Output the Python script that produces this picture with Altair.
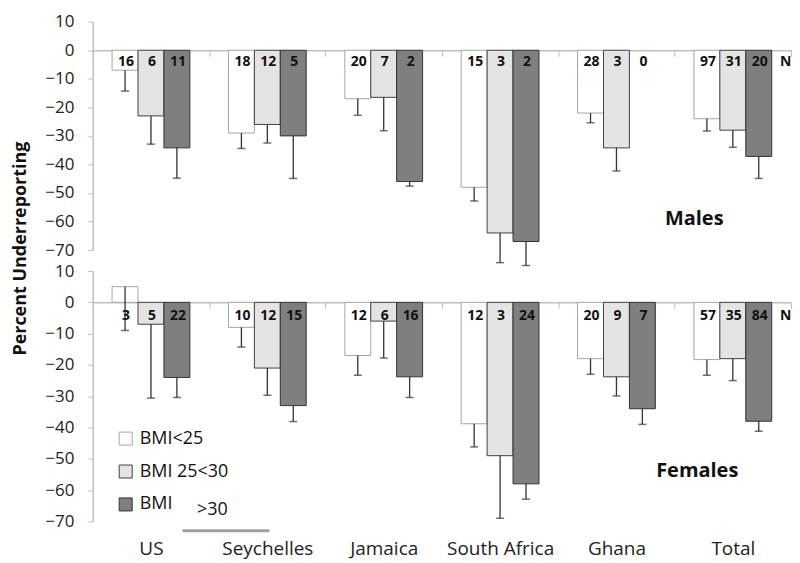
import altair as alt
import pandas as pd

countries = ["US", "Seychelles", "Jamaica", "South Africa", "Ghana", "Total"]
groups = ["BMI<25", "BMI 25<30", "BMI >30"]

# Males
male_lt25 = [-7, -29, -17, -48, -22, -24]
male_lt25_err = [-14.3, -34.4, -22.8, -52.8, -25.4, -28.3]
male_25_30 = [-23, -26, -16.5, -64, -34.2, -28]
male_25_30_err = [-32.9, -32.5, -28.2, -74.4, -42.3, -34]
male_gt30 = [-34.2, -30, -46, -67, 0, -37.2]
male_gt30_err = [-44.8, -44.9, -47.6, -75.4, None, -44.9]
male_n_lt25 = [16, 18, 20, 15, 28, 97]
male_n_25_30 = [6, 12, 7, 3, 3, 31]
male_n_gt30 = [11, 5, 2, 2, 0, 20]

# Females
female_lt25 = [5, -8, -17, -38.8, -18, -18.3]
female_lt25_err = [-9, -14.3, -23.3, -46.2, -23, -23.3]
female_25_30 = [-7, -21, -6, -49, -23.8, -18]
female_25_30_err = [-30.6, -29.7, -17.8, -69, -29.9, -25]
female_gt30 = [-24, -33, -23.8, -58, -34, -38]
female_gt30_err = [-30.4, -38.1, -30.4, -62.9, -39, -41.2]
female_n_lt25 = [3, 10, 12, 12, 20, 57]
female_n_25_30 = [5, 12, 6, 3, 9, 35]
female_n_gt30 = [22, 15, 16, 24, 7, 84]

y_ticks = [10, 0, -10, -20, -30, -40, -50, -60, -70]

fills = ["#ffffff", "#e4e4e4", "#7f7f7f"]
strokes = ["#a6a6a6", "#404040", "#333333"]

FONT = "Open Sans"
W = 700
H1 = 229
H2 = 251


def build(vals, errs, ns):
    rows = []
    for g, v, e, n in zip(groups, vals, errs, ns):
        for i, c in enumerate(countries):
            rows.append({"country": c, "group": g, "value": v[i], "err": e[i], "n": n[i]})
    return pd.DataFrame(rows)


males = build([male_lt25, male_25_30, male_gt30],
              [male_lt25_err, male_25_30_err, male_gt30_err],
              [male_n_lt25, male_n_25_30, male_n_gt30])
females = build([female_lt25, female_25_30, female_gt30],
                [female_lt25_err, female_25_30_err, female_gt30_err],
                [female_n_lt25, female_n_25_30, female_n_gt30])


def panel(df, height, show_labels, show_legend, label_dy, name, name_y, name_x):
    zero_from_bottom = height * 70 / 80
    x_axis = alt.Axis(
        orient="bottom", offset=-zero_from_bottom, title=None,
        labels=show_labels, labelPadding=232, labelFontSize=19, labelFont=FONT,
        labelColor="#222", tickBand="extent", tickSize=6, tickColor="#bfbfbf",
        domainColor="#bfbfbf", domainWidth=1.5, labelAngle=0,
    )
    x = alt.X("country:N", sort=countries, axis=x_axis,
              scale=alt.Scale(paddingInner=0, paddingOuter=0))
    xo = alt.XOffset("group:N", sort=groups,
                     scale=alt.Scale(domain=groups, paddingInner=0, paddingOuter=0.745))
    yscale = alt.Scale(domain=[-70, 10], nice=False, zero=False)
    y_axis = alt.Axis(
        values=y_ticks, grid=False, labelFontSize=17, labelFont=FONT,
        labelColor="#222", tickColor="#bfbfbf", tickSize=5, domainColor="#bfbfbf",
        domainWidth=1.5, labelPadding=14, labelOverlap=False,
        title="Percent  Underreporting" if show_legend else None,
        titleFont=FONT, titleFontSize=18, titleFontWeight="bold", titleColor="#111",
        titleY=-23 if show_legend else 0, titlePadding=15,
    )

    def Y(field):
        return alt.Y(field, scale=yscale, axis=y_axis)

    def YD(v):
        return alt.YDatum(v, scale=yscale, axis=y_axis)

    if show_legend:
        legend = alt.Legend(
            orient="none", legendX=24, legendY=159, title=None, symbolType="square",
            symbolSize=170, symbolStrokeColor="#555", symbolStrokeWidth=1,
            labelFontSize=18, labelFont=FONT, labelColor="#111", rowPadding=15,
            labelOffset=5,
            labelExpr="datum.label == 'BMI >30' ? 'BMI' : datum.label",
        )
    else:
        legend = None

    base = alt.Chart(df)
    bars = base.transform_filter("datum.value != 0").mark_bar(strokeWidth=1).encode(
        x=x, xOffset=xo, y=Y("value:Q"),
        fill=alt.Fill("group:N", sort=groups,
                      scale=alt.Scale(domain=groups, range=fills), legend=legend),
        stroke=alt.Stroke("group:N", sort=groups,
                          scale=alt.Scale(domain=groups, range=strokes), legend=None),
    )
    errs = base.transform_filter("isValid(datum.err)")
    rules = errs.mark_rule(color="#333", strokeWidth=1.3).encode(
        x=x, xOffset=xo, y=Y("value:Q"), y2="err:Q")
    caps = errs.mark_tick(color="#333", thickness=1.5, size=8, orient="horizontal").encode(
        x=x, xOffset=xo, y=Y("err:Q"))
    nums = base.mark_text(fontSize=14, fontWeight="bold", font=FONT, color="#111",
                          dy=label_dy, dx=1).encode(
        x=x, xOffset=xo, y=YD(0), text="n:Q")
    nlab = alt.Chart(pd.DataFrame({"t": ["N"]})).mark_text(
        fontSize=14, fontWeight="bold", font=FONT, color="#111", dy=label_dy, dx=27).encode(
        x=alt.datum("Total"), xOffset=alt.datum("BMI >30"), y=YD(0), text="t:N")
    title = alt.Chart(pd.DataFrame({"t": [name]})).mark_text(
        fontSize=20, fontWeight="bold", font=FONT, color="#111").encode(
        x=alt.value(name_x), y=YD(name_y), text="t:N")

    layers = [bars, rules, caps, nums, nlab, title]
    if show_legend:
        gt = alt.Chart(pd.DataFrame({"t": [">30"]})).mark_text(
            fontSize=18, font=FONT, color="#111").encode(
            x=alt.value(120), y=YD(-66.5), text="t:N")
        line = alt.Chart(pd.DataFrame({"a": [1]})).mark_rule(
            color="#a0a0a0", strokeWidth=3).encode(
            x=alt.value(90), x2=alt.value(177), y=YD(-73))
        layers += [gt, line]
    return alt.layer(*layers).properties(width=W, height=height)


top = panel(males, H1, False, False, 12, "Males", -59, 603)
bottom = panel(females, H2, True, True, 14, "Females", -54, 606)

chart = alt.vconcat(top, bottom, spacing=21, bounds="flush").resolve_scale(
    fill="independent", stroke="independent"
).resolve_legend(fill="independent", stroke="independent").properties(
    padding={"left": 3, "top": 4, "right": 0, "bottom": 0}, background="white"
).configure_view(stroke=None).configure_axisY(labelOverlap=False)

chart.save("out.html", embed_options={"renderer": "svg", "actions": False})
